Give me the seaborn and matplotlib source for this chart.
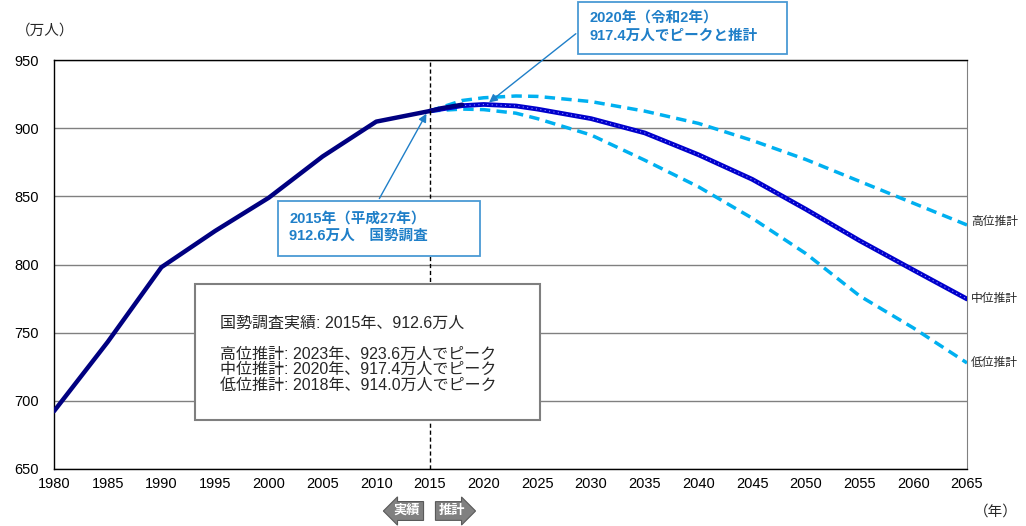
import numpy as np
import seaborn as sns
import matplotlib.pyplot as plt
from matplotlib.patches import Rectangle

# 実績 (国勢調査 + 推計人口)
years_actual = [1980, 1985, 1990, 1995, 2000, 2005, 2010, 2015, 2016, 2017, 2018]
pop_actual = [692.4, 743.2, 798.0, 824.6, 849.0, 879.2, 904.8, 912.6, 914.5, 915.9, 917.2]

# 将来推計
years_proj = [2015, 2018, 2020, 2023, 2025, 2030, 2035, 2040, 2045, 2050, 2055, 2060, 2065]
pop_high = [912.6, 920.3, 922.3, 923.6, 923.3, 919.5, 912.5, 903.5, 891.0, 877.0, 861.0, 845.0, 829.0]
pop_mid = [912.6, 916.5, 917.4, 916.3, 914.0, 907.0, 896.5, 880.5, 862.5, 840.5, 817.5, 796.0, 774.7]
pop_low = [912.6, 914.0, 913.6, 911.0, 907.0, 895.0, 876.5, 857.0, 834.0, 808.0, 777.0, 753.5, 727.8]

series_labels = ["高位推計", "中位推計", "低位推計"]
legend_lines = [
    "国勢調査実績: 2015年、912.6万人",
    "",
    "高位推計: 2023年、923.6万人でピーク",
    "中位推計: 2020年、917.4万人でピーク",
    "低位推計: 2018年、914.0万人でピーク",
]

W, H = 1026, 526


def fx(px):
    return px / W


def fy(py):
    return 1 - py / H


def main():
    sns.set_style("white")
    plt.rcParams["font.family"] = ["Liberation Sans", "Noto Sans CJK JP", "DejaVu Sans"]

    fig = plt.figure(figsize=(10.26, 5.26), dpi=100)
    ax = fig.add_axes([fx(54), fy(469), fx(967) - fx(54), fy(60) - fy(469)])

    sns.lineplot(x=years_proj, y=pop_high, color="#00b0f0", lw=2.5,
                 linestyle=(0, (3, 1.8)), ax=ax, zorder=4)
    sns.lineplot(x=years_proj, y=pop_low, color="#00b0f0", lw=2.5,
                 linestyle=(0, (3, 1.8)), ax=ax, zorder=4)
    sns.lineplot(x=years_proj, y=pop_mid, color="#0000cc", lw=3.4, ax=ax, zorder=5)
    ax.plot(years_proj, pop_mid, color="#8c8cff", lw=0.8, linestyle=(0, (1, 3)), zorder=6)
    sns.lineplot(x=years_actual, y=pop_actual, color="#000080", lw=3.2, ax=ax, zorder=7)

    ax.set_xlim(1980, 2065)
    ax.set_ylim(650, 950)
    ax.set_xticks(range(1980, 2066, 5))
    ax.set_yticks(range(650, 951, 50))
    ax.tick_params(axis="both", labelsize=10.5, colors="black")
    ax.tick_params(axis="x", length=0, pad=6)
    ax.tick_params(axis="y", length=3, direction="out", pad=8)
    ax.yaxis.grid(True, color="#808080", lw=1)
    ax.set_axisbelow(True)
    for s in ["left", "top", "bottom"]:
        ax.spines[s].set_color("black")
        ax.spines[s].set_linewidth(1)
    ax.spines["right"].set_color("#808080")
    ax.set_xlabel("")
    ax.set_ylabel("")

    ax.axvline(2015, color="black", lw=1, linestyle=(0, (3, 2)), zorder=8)

    # 凡例の説明ボックス
    fig.patches.append(Rectangle((fx(195), fy(420)), fx(540) - fx(195), fy(284) - fy(420),
                                 transform=fig.transFigure, fc="white", ec="#7f7f7f",
                                 lw=1.5, zorder=3))
    ys = [323, 339, 354, 369, 385]
    for line, py in zip(legend_lines, ys):
        if line:
            fig.text(fx(220), fy(py), line, fontsize=11.5, va="center", ha="left", zorder=9)

    # 吹き出し
    blue = "#1f7fc8"
    fig.patches.append(Rectangle((fx(578), fy(54)), fx(787) - fx(578), fy(2) - fy(54),
                                 transform=fig.transFigure, fc="white", ec="#4a9ad4",
                                 lw=1.3, zorder=3))
    fig.text(fx(590), fy(18), "2020年（令和2年）", color=blue, fontsize=10.5,
             fontweight="bold", va="center")
    fig.text(fx(590), fy(36), "917.4万人でピークと推計", color=blue, fontsize=10.5,
             fontweight="bold", va="center")
    ax.annotate("", xy=(2020.3, 917.6), xycoords="data",
                xytext=(fx(578), fy(32)), textcoords="figure fraction",
                arrowprops=dict(arrowstyle="-|>", color=blue, lw=1, mutation_scale=12),
                zorder=9)

    fig.patches.append(Rectangle((fx(278), fy(256)), fx(480) - fx(278), fy(201) - fy(256),
                                 transform=fig.transFigure, fc="white", ec="#4a9ad4",
                                 lw=1.3, zorder=3))
    fig.text(fx(289), fy(219), "2015年（平成27年）", color=blue, fontsize=10.5,
             fontweight="bold", va="center")
    fig.text(fx(289), fy(236), "912.6万人　国勢調査", color=blue, fontsize=10.5,
             fontweight="bold", va="center")
    ax.annotate("", xy=(2014.8, 912.4), xycoords="data",
                xytext=(fx(378), fy(201)), textcoords="figure fraction",
                arrowprops=dict(arrowstyle="-|>", color=blue, lw=1, mutation_scale=12),
                zorder=9)

    # 右端ラベル
    ends = [pop_high[-1], pop_mid[-1], pop_low[-1]]
    offs = [2, 0, 0]
    for lab, v, o in zip(series_labels, ends, offs):
        ax.annotate(lab, xy=(2065, v), xytext=(3, o), textcoords="offset points",
                    fontsize=8.5, va="center", ha="left", annotation_clip=False)

    fig.text(fx(16), fy(31), "（万人）", fontsize=10.5, va="center", ha="left")
    fig.text(fx(974), fy(512), "（年）", fontsize=10.5, va="center", ha="left")

    # 実績 / 推計 の矢印
    fig.text(fx(407), fy(511), "実績", color="white", fontsize=9.5, fontweight="bold",
             ha="center", va="center",
             bbox=dict(boxstyle="larrow,pad=0.25", fc="#808080", ec="#595959", lw=0.8))
    fig.text(fx(452), fy(511), "推計", color="white", fontsize=9.5, fontweight="bold",
             ha="center", va="center",
             bbox=dict(boxstyle="rarrow,pad=0.25", fc="#808080", ec="#595959", lw=0.8))

    fig.savefig("out.png", dpi=100)


if __name__ == "__main__":
    main()
